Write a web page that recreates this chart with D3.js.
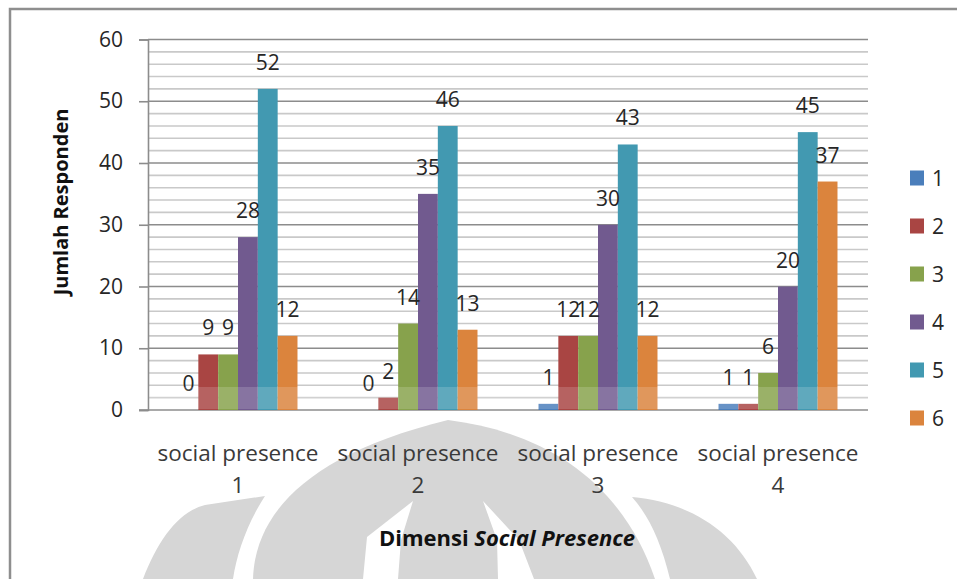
<!DOCTYPE html>
<html>
<head>
<meta charset="utf-8">
<script src="https://cdn.jsdelivr.net/npm/d3@7"></script>
<style>
  html, body { margin: 0; padding: 0; background: #fff; }
  svg { display: block; }
  text { font-family: "Open Sans", Lato, sans-serif; }
</style>
</head>
<body>
<svg id="chart" width="957" height="579"></svg>
<script>
// Categories, series and values
const categories = ["social presence 1", "social presence 2", "social presence 3", "social presence 4"];
const seriesNames = ["1", "2", "3", "4", "5", "6"];
const series1 = [0, 0, 1, 1];
const series2 = [9, 2, 12, 1];
const series3 = [9, 14, 12, 6];
const series4 = [28, 35, 30, 20];
const series5 = [52, 46, 43, 45];
const series6 = [12, 13, 12, 37];
const yTicks = [0, 10, 20, 30, 40, 50, 60];
const colors = ["#4a7ebb", "#a94543", "#87a24c", "#715a8f", "#4299b1", "#db843d"];

const allSeries = [series1, series2, series3, series4, series5, series6];
const rows = categories.map((c, i) => ({
  category: c,
  values: seriesNames.map((s, j) => ({ key: s, value: allSeries[j][i], color: colors[j] }))
}));

const svg = d3.select("#chart");
const W = 957, H = 579;
const plot = { left: 148, right: 868, top: 39.5, bottom: 410 };
const FONT = "'Open Sans', Lato, sans-serif";

// Outer frame
svg.append("rect").attr("width", W).attr("height", H).attr("fill", "#fff");
svg.append("path")
  .attr("d", `M10,${H} L10,9 L${W},9`)
  .attr("fill", "none").attr("stroke", "#8e8e8e").attr("stroke-width", 2.5);

// Background emblem in light grey
const wm = svg.append("g").attr("fill", "#d6d6d6");
wm.append("path").attr("d", "M143,579 C158,540 178,512 205,505 L265,496 C248,522 237,552 233,579 Z");
wm.append("path").attr("d", "M253,579 C255,515 305,455 448,420 C545,432 622,482 655,579 Z");
wm.append("path").attr("d", "M632,497 C690,502 735,532 757,579 L670,579 C661,542 649,516 632,497 Z");
const cut = svg.append("g").attr("fill", "#fff");
cut.append("path").attr("d", "M413,501 L367,537 L363,579 L398,579 L401,540 Z");
cut.append("path").attr("d", "M483,501 L497,540 L498,579 L534,579 L519,540 Z");

// Scales
const x0 = d3.scaleBand().domain(categories).range([plot.left, plot.right])
  .paddingInner(0.339).paddingOuter(0.1695);
const x1 = d3.scaleBand().domain(seriesNames).range([0, x0.bandwidth()]);
const y = d3.scaleLinear().domain([0, 60]).range([plot.bottom, plot.top]);

// Gridlines: minor every 2, major every 10
const minor = d3.range(2, 60, 2).filter(v => v % 10 !== 0);
svg.append("g").selectAll("line").data(minor).join("line")
  .attr("x1", plot.left).attr("x2", plot.right)
  .attr("y1", d => y(d)).attr("y2", d => y(d))
  .attr("stroke", "#c9c9c9").attr("stroke-width", 1.6);
svg.append("g").selectAll("line").data(yTicks.filter(v => v > 0)).join("line")
  .attr("x1", plot.left).attr("x2", plot.right)
  .attr("y1", d => y(d)).attr("y2", d => y(d))
  .attr("stroke", "#8c8c8c").attr("stroke-width", 1.6);

// Y axis
const yAxis = d3.axisLeft(y).tickValues(yTicks).tickSize(9).tickPadding(16);
const gy = svg.append("g").attr("transform", `translate(${plot.left},0)`).call(yAxis);
gy.select(".domain").attr("stroke", "#8c8c8c").attr("stroke-width", 1.6);
gy.selectAll(".tick line").attr("stroke", "#8c8c8c").attr("stroke-width", 1.6);
gy.selectAll(".tick text").attr("font-size", 21).attr("fill", "#262626")
  .attr("font-family", FONT);

// X axis baseline
svg.append("line")
  .attr("x1", plot.left - 9).attr("x2", plot.right)
  .attr("y1", y(0)).attr("y2", y(0))
  .attr("stroke", "#8c8c8c").attr("stroke-width", 1.6);

// Bars
const groups = svg.append("g").selectAll("g").data(rows).join("g")
  .attr("transform", d => `translate(${x0(d.category)},0)`);
groups.selectAll("rect").data(d => d.values).join("rect")
  .attr("x", d => x1(d.key))
  .attr("y", d => y(d.value))
  .attr("width", x1.bandwidth())
  .attr("height", d => y(0) - y(d.value))
  .attr("fill", d => d.color);

// Lighter band across the bottom of the bars
svg.append("rect")
  .attr("x", plot.left + 1).attr("y", 387)
  .attr("width", plot.right - plot.left).attr("height", y(0) - 387 - 1)
  .attr("fill", "#fff").attr("opacity", 0.16);

// Value labels
groups.selectAll("text.val").data(d => d.values).join("text")
  .attr("class", "val")
  .attr("x", d => x1(d.key) + x1.bandwidth() / 2)
  .attr("y", d => y(d.value) - 19)
  .attr("text-anchor", "middle")
  .attr("font-size", 21).attr("fill", "#262626")
  .text(d => d.value);

// Category labels (two lines)
const catLabels = svg.append("g").selectAll("text").data(categories).join("text")
  .attr("x", d => x0(d) + x0.bandwidth() / 2)
  .attr("y", 461)
  .attr("text-anchor", "middle")
  .attr("font-size", 22.5).attr("fill", "#3a3a3a");
catLabels.append("tspan").text(d => d.replace(/\s\d+$/, ""));
catLabels.append("tspan")
  .attr("x", d => x0(d) + x0.bandwidth() / 2).attr("dy", 32)
  .text(d => d.match(/\d+$/)[0]);

// Axis titles
svg.append("text")
  .attr("transform", "translate(68,202) rotate(-90)")
  .attr("text-anchor", "middle")
  .attr("font-size", 20).attr("font-weight", "bold").attr("fill", "#111")
  .text("Jumlah Responden");
const xt = svg.append("text")
  .attr("x", 507).attr("y", 546)
  .attr("text-anchor", "middle")
  .attr("font-size", 22).attr("font-weight", "bold").attr("fill", "#111");
xt.append("tspan").text("Dimensi ");
xt.append("tspan").attr("font-style", "italic").text("Social Presence");

// Legend
const legend = svg.append("g").selectAll("g").data(seriesNames).join("g")
  .attr("transform", (d, i) => `translate(910,${178 + i * 48})`);
legend.append("rect").attr("x", 0).attr("y", -7.5).attr("width", 14).attr("height", 15)
  .attr("fill", (d, i) => colors[i]);
legend.append("text").attr("x", 22).attr("y", 7.5)
  .attr("font-size", 21).attr("fill", "#262626")
  .text(d => d);
</script>
</body>
</html>
